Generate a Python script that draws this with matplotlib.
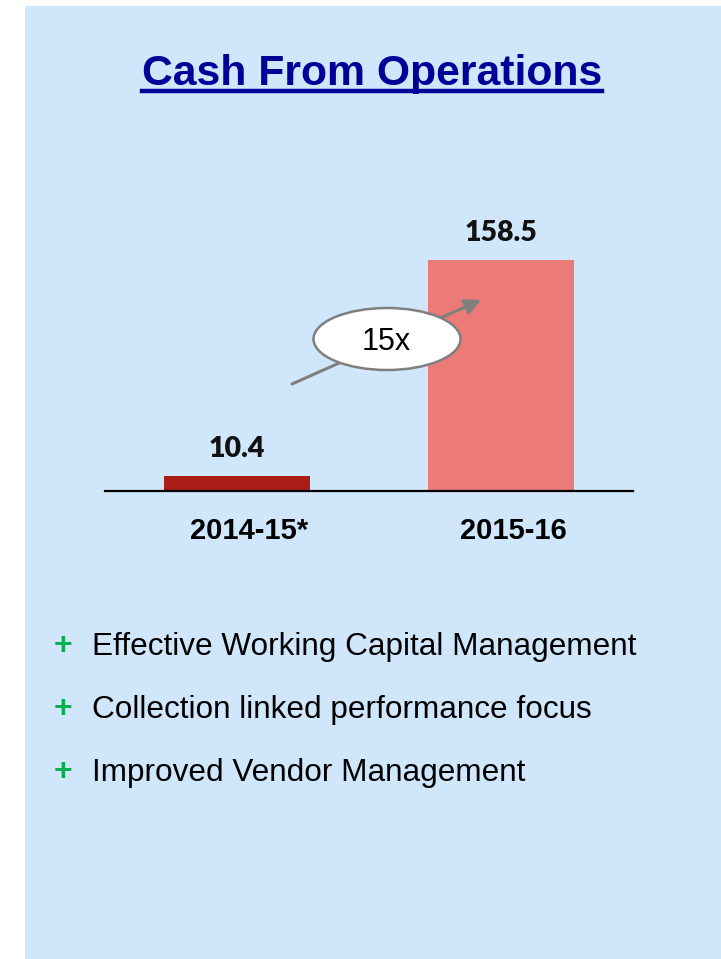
import matplotlib.pyplot as plt
import matplotlib.transforms as mtransforms
from matplotlib.patches import Rectangle, Ellipse
from matplotlib.lines import Line2D

# data
years = ['2014-15*', '2015-16']
cash = [10.4, 158.5]
bar_colors = ['#A91D16', '#EC7B77']
growth = '15x'
title = 'Cash From Operations'
points = ['Effective Working Capital Management',
          'Collection linked performance focus',
          'Improved Vendor Management']

W, H = 721, 959
fig = plt.figure(figsize=(W / 100, H / 100), dpi=100)
fig.patch.set_facecolor('white')
fig.patches.append(Rectangle((25 / W, 0), 1, (H - 6) / H, transform=fig.transFigure,
                             facecolor='#D0E6FA', edgecolor='none', zorder=-5))

# bar chart
ax = fig.add_axes([105 / W, (H - 491) / H, 528 / W, 300 / H], zorder=1)
ax.patch.set_alpha(0)
x = list(range(len(years)))
ax.bar(x, cash, width=0.555, color=bar_colors)
ax.set_xlim(-0.5, 1.5)
ax.set_ylim(0, 300 / 1.457)
for s in ['top', 'left', 'right']:
    ax.spines[s].set_visible(False)
ax.spines['bottom'].set_color('black')
ax.spines['bottom'].set_linewidth(1.6)
ax.set_yticks([])
ax.set_xticks(x, years)
ax.tick_params(axis='x', length=0, pad=19)
shift = mtransforms.ScaledTranslation(12 / 72 * 0.72, 0, fig.dpi_scale_trans)
for lbl in ax.get_xticklabels():
    lbl.set_fontfamily('Liberation Sans')
    lbl.set_fontweight('bold')
    lbl.set_fontsize(21)
    lbl.set_transform(lbl.get_transform() + shift)

for i, v in enumerate(cash):
    ax.annotate(f'{v}', (i, v), xytext=(0, 13.7), textcoords='offset points',
                ha='center', va='baseline', fontsize=20.5, fontweight='heavy',
                family='Lato', color='#111111')

# overlay in pixel coords
ov = fig.add_axes([0, 0, 1, 1], zorder=3)
ov.patch.set_alpha(0)
ov.set_xlim(0, W)
ov.set_ylim(H, 0)
ov.axis('off')

ov.annotate('', xy=(481, 300), xytext=(292, 384),
            arrowprops=dict(arrowstyle='-|>', color='#7F7F7F', lw=2.2,
                            mutation_scale=24, shrinkA=0, shrinkB=0), zorder=2)
ov.add_patch(Ellipse((387, 339), 147, 62, facecolor='white', edgecolor='#7F7F7F',
                     lw=1.8, zorder=3))
ov.text(386, 350, growth, ha='center', va='baseline', fontsize=22,
        family='Liberation Sans', color='black', zorder=4)

t = ov.text(372, 85, title, ha='center', va='baseline', fontsize=30.8, fontweight='bold',
            family='Liberation Sans', color='#000099')
fig.canvas.draw()
bb = t.get_window_extent()
x0, _ = ov.transData.inverted().transform((bb.x0, bb.y0))
x1, _ = ov.transData.inverted().transform((bb.x1, bb.y0))
ov.add_line(Line2D([x0, x1], [90.5, 90.5], color='#000099', lw=3.2))

for i, p in enumerate(points):
    y = 655 + 63 * i
    ov.text(63, y - 1, '+', color='#00B050', fontsize=23, fontweight='bold',
            ha='center', va='baseline', family='Liberation Sans')
    ov.text(92, y, p, color='black', fontsize=22.7, ha='left', va='baseline',
            family='Liberation Sans')

fig.savefig('out.png', dpi=100, facecolor=fig.get_facecolor())
